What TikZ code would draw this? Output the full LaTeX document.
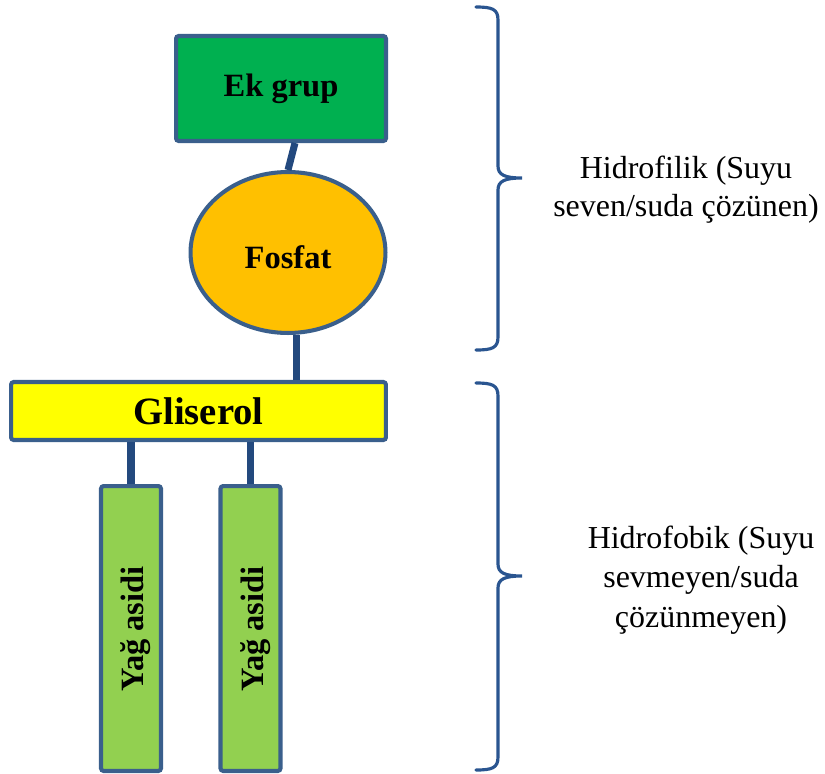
\documentclass[tikz,border=0pt]{standalone}
\usepackage{fontspec}
\setmainfont{Liberation Serif}
\usetikzlibrary{shapes.geometric,calc}
\definecolor{bord}{HTML}{3A5F8C}
\definecolor{conn}{HTML}{23497E}
\definecolor{brc}{HTML}{2A5590}
\definecolor{ekg}{HTML}{00B050}
\definecolor{fos}{HTML}{FFC000}
\definecolor{gli}{HTML}{FFFF00}
\definecolor{yag}{HTML}{92D050}
\tikzset{
  box/.style={draw=bord, line width=2.3pt, rounded corners=1.5pt, inner sep=0pt, font=\bfseries\fontsize{18.5}{22}\selectfont},
  oval/.style={ellipse, draw=bord, line width=2.3pt, inner sep=0pt, fill=fos, font=\bfseries\fontsize{18.5}{22}\selectfont},
  link/.style={draw=conn, line width=4pt},
  brace/.style={draw=brc, line width=1.8pt, line cap=round},
  side/.style={align=center, font=\fontsize{18.2}{21.5}\selectfont}
}
\begin{document}
\begin{tikzpicture}[x=0.02cm,y=-0.02cm]
\useasboundingbox (0,0) rectangle (825,774);
\node[box, fill=ekg, minimum width=4.2cm, minimum height=2.1cm] (ek) at (281,88.5) {Ek grup};
\node[oval, minimum width=3.9cm, minimum height=3.22cm] (fo) at (288,252.5) {};
\node[font=\bfseries\fontsize{18.5}{22}\selectfont] (fot) at (288,257) {Fosfat};
\node[box, fill=gli, minimum width=7.5cm, minimum height=1.16cm, font=\bfseries\fontsize{22}{26}\selectfont] (gl) at (198.5,411) {Gliserol};
\node[box, fill=yag, minimum width=1.2cm, minimum height=5.7cm] (fa1) at (131,628.5) {};
\node[box, fill=yag, minimum width=1.2cm, minimum height=5.7cm] (fa2) at (250.5,628.5) {};
\node[rotate=90, font=\bfseries\fontsize{18.5}{22}\selectfont] (t1) at (135.5,629) {Yağ asidi};
\node[rotate=90, font=\bfseries\fontsize{18.5}{22}\selectfont] (t2) at (255.5,629) {Yağ asidi};
% connectors
\draw[link] ([xshift=0.28cm]ek.south) -- (fo.north);
\draw[link] (fo.-84) -- (fo.-84 |- gl.north);
\draw[link] (fa1.north |- gl.south) -- (fa1.north);
\draw[link] (fa2.north |- gl.south) -- (fa2.north);
% braces
\draw[brace] (476,7) .. controls (492,7) and (498,9) .. (498,20) -- (498,166)
  .. controls (498,175) and (505,178) .. (522,178)
  .. controls (505,178) and (498,181) .. (498,190) -- (498,337)
  .. controls (498,348) and (492,350) .. (476,350);
\draw[brace] (476,383) .. controls (492,383) and (498,385) .. (498,396) -- (498,564)
  .. controls (498,573) and (505,576) .. (522,576)
  .. controls (505,576) and (498,579) .. (498,588) -- (498,757)
  .. controls (498,768) and (492,770) .. (476,770);
\node[side] (hf) at (686,190) {Hidrofilik (Suyu\\seven/suda çözünen)};
\node[side, font=\fontsize{18.2}{22.5}\selectfont] (hb) at (701,580) {Hidrofobik (Suyu\\sevmeyen/suda\\çözünmeyen)};
\end{tikzpicture}
\end{document}
